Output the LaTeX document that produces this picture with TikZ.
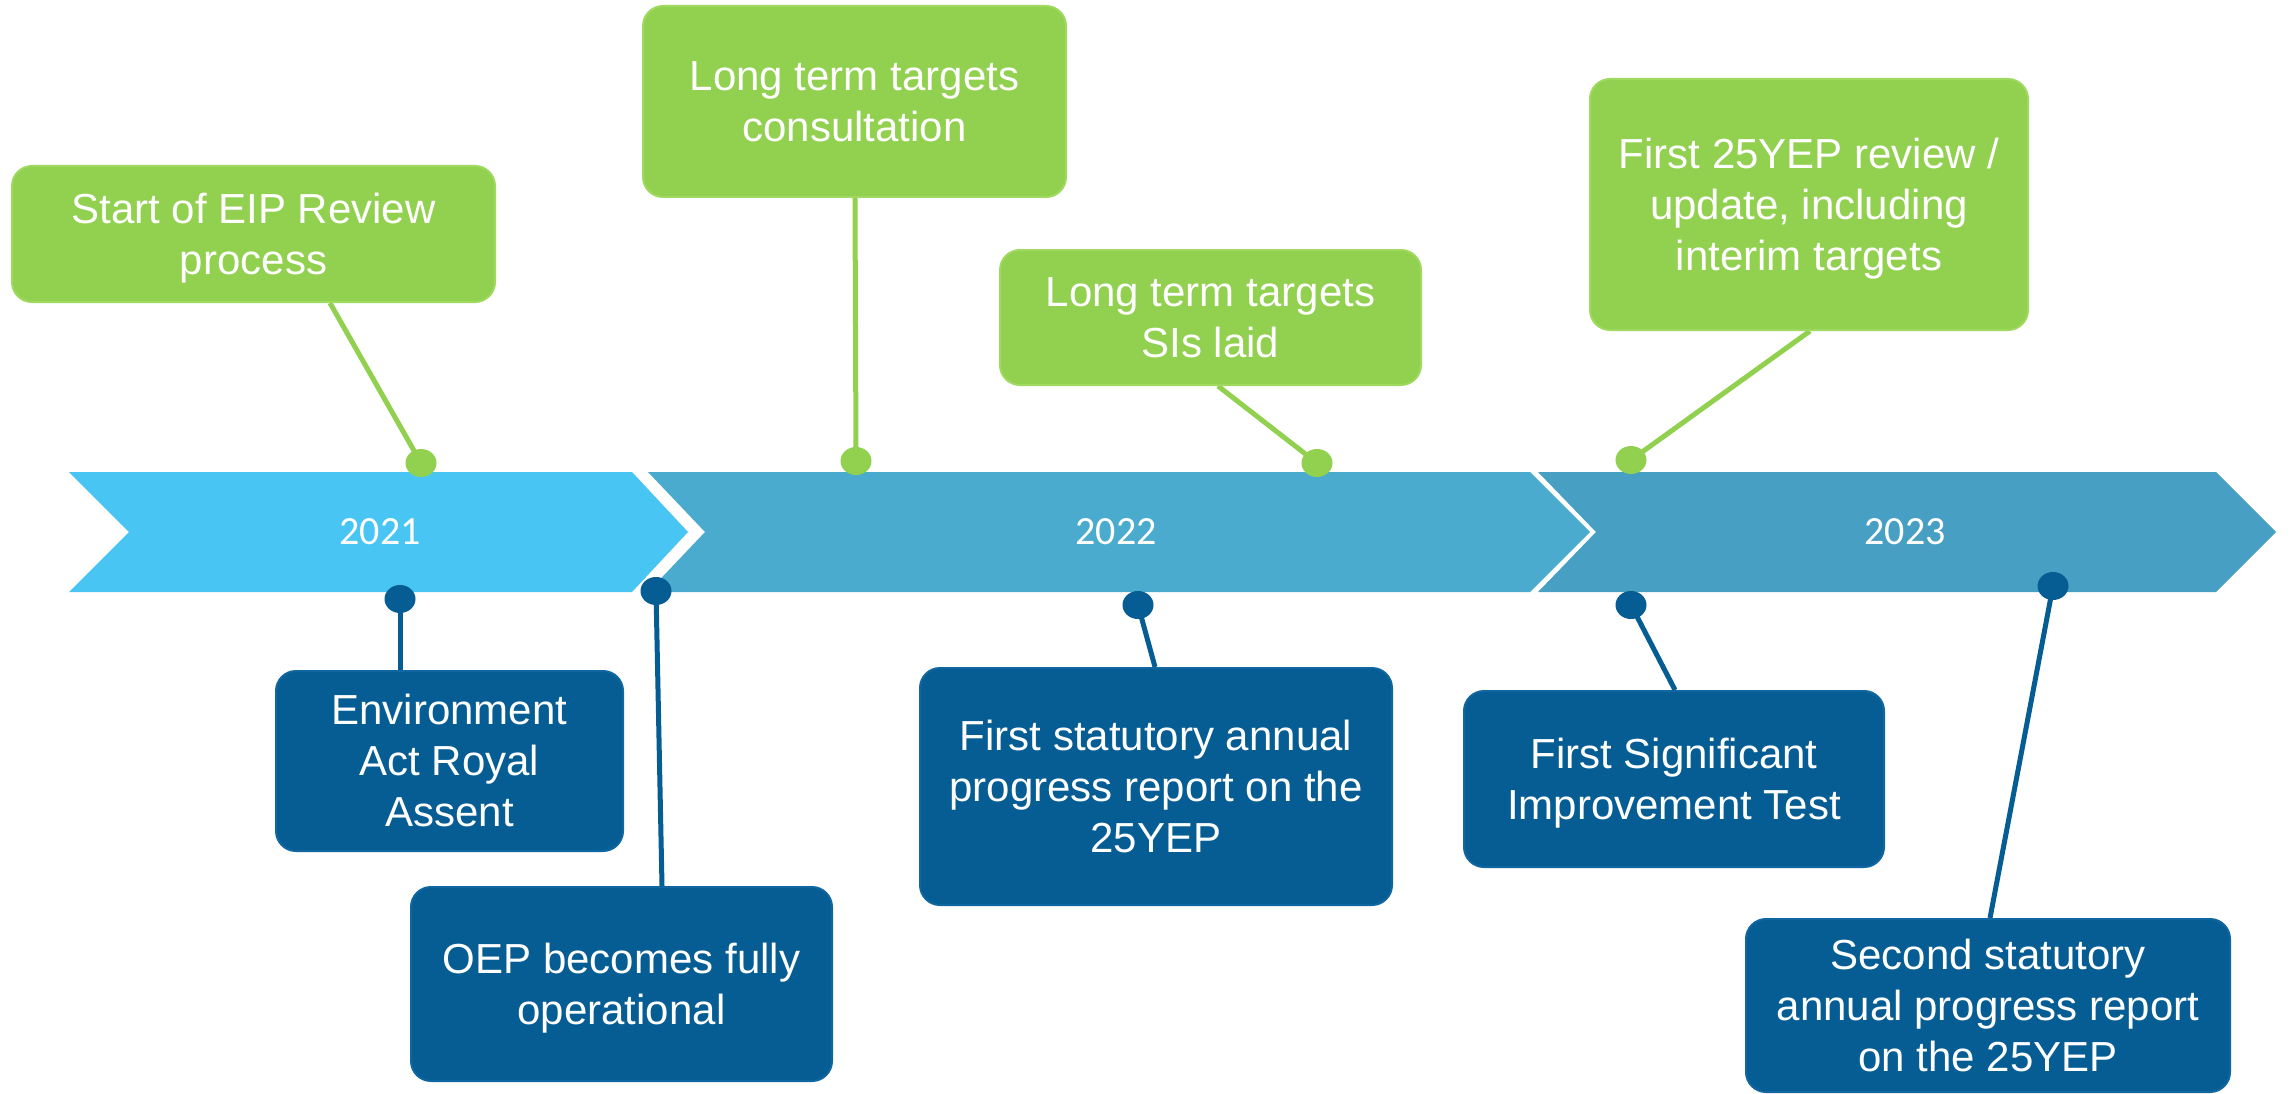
\documentclass[tikz,border=0pt]{standalone}
\usepackage{fontspec}
\setmainfont{Liberation Sans}
\newfontfamily\yearfont{Carlito}
\usetikzlibrary{shapes.geometric}
\definecolor{cA}{HTML}{49C5F3}
\definecolor{cB}{HTML}{4AABCF}
\definecolor{cC}{HTML}{47A0C3}
\definecolor{gr}{HTML}{92D050}
\definecolor{grL}{HTML}{9FD95F}
\definecolor{db}{HTML}{055D93}
\definecolor{dbL}{HTML}{0F66A0}
\newcommand{\Ls}{\rule[-9pt]{0pt}{47pt}}
\pgfdeclarelayer{bg}
\pgfdeclarelayer{mid}
\pgfsetlayers{bg,mid,main}
\tikzset{
  boxbase/.style={rectangle, rounded corners=20pt, line width=2pt, text=white,
    font=\fontsize{42}{51}\selectfont, align=center, inner sep=0pt},
  gbox/.style={boxbase, fill=gr, draw=grL},
  dbox/.style={boxbase, fill=db, draw=dbL},
  dotbase/.style={ellipse, minimum width=31pt, minimum height=28pt, inner sep=0pt},
  gdot/.style={dotbase, fill=gr},
  ddot/.style={dotbase, fill=db},
  gline/.style={draw=gr, line width=5pt},
  dline/.style={draw=db, line width=5pt},
  year/.style={text=white, font=\yearfont\fontsize{40}{48}\selectfont, inner sep=0pt}
}
\begin{document}
\begin{tikzpicture}[x=1pt,y=-1pt]
\useasboundingbox (0,0) rectangle (2290,1094);
\begin{pgfonlayer}{bg}
  \fill[white] (0,0) rectangle (2290,1094);
  \fill[cA] (69,472) -- (632,472) -- (688,532) -- (632,592) -- (69,592) -- (129,532) -- cycle;
  \fill[cB] (648,472) -- (1530,472) -- (1590,532) -- (1530,592) -- (648,592) -- (705,532) -- cycle;
  \fill[cC] (1538,472) -- (2216,472) -- (2276,532) -- (2216,592) -- (1538,592) -- (1596,532) -- cycle;
\end{pgfonlayer}
% year labels
\node[year] (y1) at (380,532) {2021};
\node[year] (y2) at (1116,532) {2022};
\node[year] (y3) at (1905,532) {2023};
% green boxes
\node[gbox, minimum width=483pt, minimum height=136pt] (g1) at (253.5,234) {\Ls Start of EIP Review\\\Ls process};
\node[gbox, minimum width=423pt, minimum height=191pt] (g2) at (854.5,101.5) {\Ls Long term targets\\\Ls consultation};
\node[gbox, minimum width=421pt, minimum height=135pt] (g3) at (1210.5,317.5) {\Ls Long term targets\\\Ls SIs laid};
\node[gbox, minimum width=438pt, minimum height=251pt] (g4) at (1809,204.5) {\Ls First 25YEP review /\\\Ls update, including\\\Ls interim targets};
% dark boxes
\node[dbox, minimum width=347pt, minimum height=180pt] (d1) at (449.5,761) {\Ls Environment\\\Ls Act Royal\\\Ls Assent};
\node[dbox, minimum width=421pt, minimum height=194pt] (d2) at (621.5,984) {\Ls OEP becomes fully\\\Ls operational};
\node[dbox, minimum width=472pt, minimum height=237pt] (d3) at (1156,786.5) {\Ls First statutory annual\\\Ls progress report on the\\\Ls 25YEP};
\node[dbox, minimum width=420pt, minimum height=176pt] (d4) at (1674,779) {\Ls First Significant\\\Ls Improvement Test};
\node[dbox, minimum width=484pt, minimum height=173pt] (d5) at (1988,1005.5) {\Ls Second statutory\\\Ls annual progress report\\\Ls on the 25YEP};
% dots
\node[gdot] (gd1) at (421,463) {};
\node[gdot] (gd2) at (856,461) {};
\node[gdot] (gd3) at (1317,463) {};
\node[gdot] (gd4) at (1631,460) {};
\node[ddot] (dd1) at (400,599) {};
\node[ddot] (dd2) at (656,591) {};
\node[ddot] (dd3) at (1138,605) {};
\node[ddot] (dd4) at (1631,605) {};
\node[ddot] (dd5) at (2053,586) {};
% connectors
\begin{pgfonlayer}{mid}
  \draw[gline] (g1.south -| 330,0) -- (gd1.center);
  \draw[gline] (g2.south -| 855,0) -- (gd2.center);
  \draw[gline] (g3.south -| 1218,0) -- (gd3.center);
  \draw[gline] (g4.south -| 1810,0) -- (gd4.center);
  \draw[dline] (d1.north -| 400,0) -- (dd1.center);
  \draw[dline] (d2.north -| 662,0) -- (dd2.center);
  \draw[dline] (d3.north -| 1155,0) -- (dd3.center);
  \draw[dline] (d4.north -| 1675,0) -- (dd4.center);
  \draw[dline] (d5.north -| 1990,0) -- (dd5.center);
\end{pgfonlayer}
\end{tikzpicture}
\end{document}
